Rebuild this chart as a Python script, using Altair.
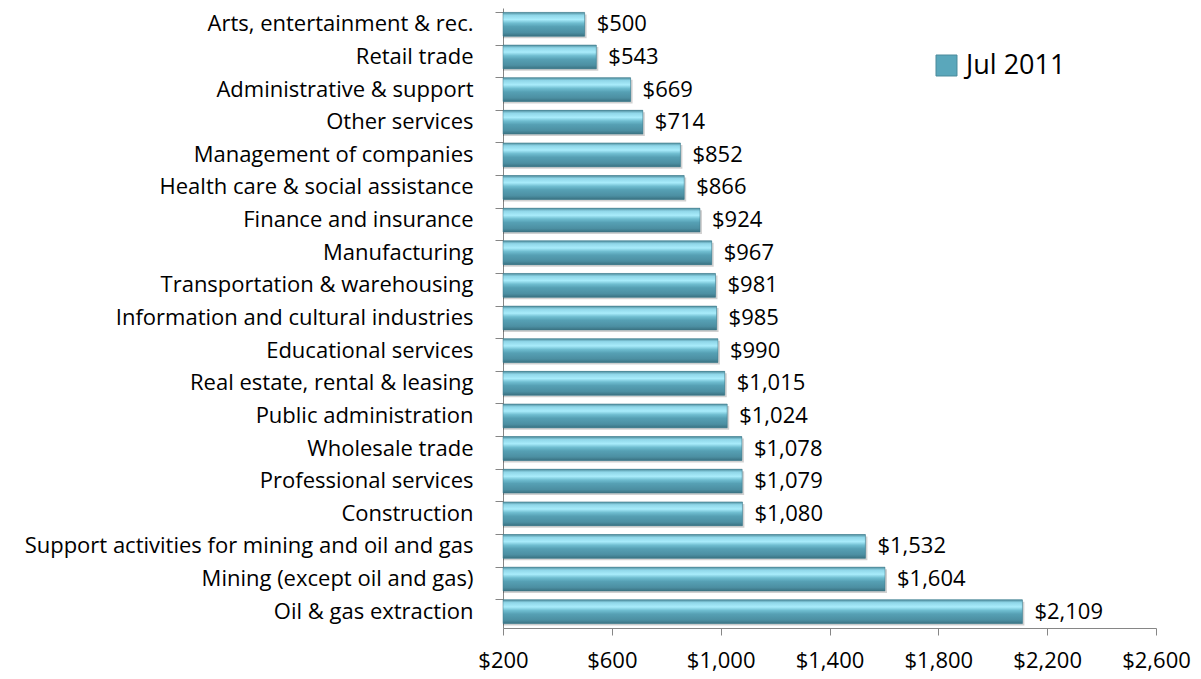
import altair as alt
import pandas as pd

categories = [
    "Arts, entertainment & rec.",
    "Retail trade",
    "Administrative & support",
    "Other services",
    "Management of companies",
    "Health care & social assistance",
    "Finance and insurance",
    "Manufacturing",
    "Transportation & warehousing",
    "Information  and cultural industries",
    "Educational services",
    "Real estate, rental & leasing",
    "Public administration",
    "Wholesale trade",
    "Professional services",
    "Construction",
    "Support activities for mining and oil and gas",
    "Mining (except oil and gas)",
    "Oil & gas extraction",
]
values = [500, 543, 669, 714, 852, 866, 924, 967, 981, 985, 990, 1015, 1024, 1078, 1079, 1080, 1532, 1604, 2109]
series = "Jul 2011"
x_ticks = [200, 600, 1000, 1400, 1800, 2200, 2600]

df = pd.DataFrame({"category": categories, "value": values, "series": series})

FONT = "Open Sans"

gradient = {
    "gradient": "linear",
    "x1": 0, "y1": 0, "x2": 0, "y2": 1,
    "stops": [
        {"offset": 0.0, "color": "#4d8c9c"},
        {"offset": 0.12, "color": "#8fd6e8"},
        {"offset": 0.3, "color": "#a9ecfb"},
        {"offset": 0.45, "color": "#6fbdd0"},
        {"offset": 0.6, "color": "#56a0b4"},
        {"offset": 0.85, "color": "#4c8fa2"},
        {"offset": 1.0, "color": "#3a7282"},
    ],
}

y_enc = alt.Y(
    "category:N",
    sort=categories,
    title=None,
    scale=alt.Scale(paddingInner=0.27, paddingOuter=0.135),
    axis=alt.Axis(
        bandPosition=0,
        labelFont=FONT,
        labelFontSize=22,
        labelColor="#000000",
        labelPadding=22,
        tickSize=8,
        tickColor="#868686",
        domainColor="#868686",
        labelLimit=0,
    ),
)
x_enc = alt.X(
    "value:Q",
    title=None,
    scale=alt.Scale(domain=[200, 2600], nice=False, zero=False, clamp=True),
    axis=alt.Axis(
        values=x_ticks,
        format="$,.0f",
        grid=False,
        labelFont=FONT,
        labelFontSize=22,
        labelColor="#000000",
        labelPadding=15,
        tickSize=7,
        tickColor="#868686",
        domainColor="#868686",
        labelFlush=False,
    ),
)

base = alt.Chart(df)

shadow = base.mark_bar(color="#000000", opacity=0.18, xOffset=2, yOffset=2).encode(
    x=x_enc, x2=alt.datum(200), y=y_enc
)

legend_bars = base.mark_bar().encode(
    x=x_enc,
    x2=alt.datum(200),
    y=y_enc,
    color=alt.Color(
        "series:N",
        scale=alt.Scale(range=["#5aa7bb"]),
        legend=alt.Legend(
            title=None,
            orient="none",
            legendX=430,
            legendY=44,
            labelFont=FONT,
            labelFontSize=27,
            labelColor="#000000",
            labelOffset=6,
            symbolType="square",
            symbolSize=440,
            symbolStrokeColor="#4a8a9b",
            symbolStrokeWidth=1,
        ),
    ),
)

bars = base.mark_bar(color=gradient, stroke="#3f7686", strokeWidth=0.5).encode(
    x=x_enc, x2=alt.datum(200), y=y_enc
)

labels = base.mark_text(
    align="left", baseline="middle", dx=12, font=FONT, fontSize=22, color="#000000"
).encode(
    x=x_enc,
    y=y_enc,
    text=alt.Text("value:Q", format="$,.0f"),
)

chart = (
    alt.layer(shadow, legend_bars, bars, labels)
    .properties(
        width=653,
        height=620,
        background="#ffffff",
        autosize=alt.AutoSizeParams(type="none"),
        padding={"left": 495, "top": 0, "right": 37, "bottom": 45},
    )
    .configure_view(stroke=None)
)

chart.save("out.html", embed_options={"renderer": "svg", "actions": False})
